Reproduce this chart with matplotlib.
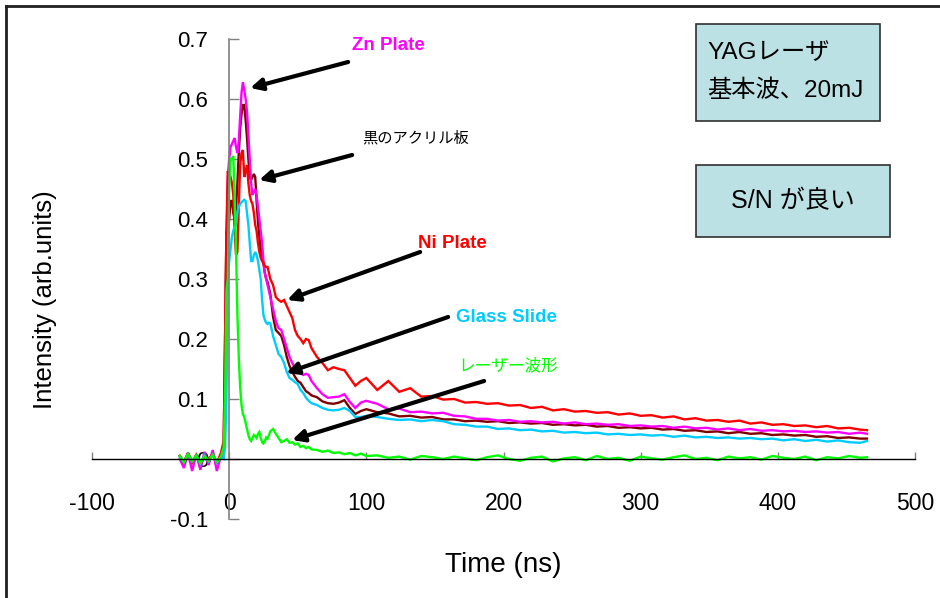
import matplotlib
matplotlib.use("Agg")
import matplotlib.pyplot as plt
from matplotlib.patches import Rectangle
from matplotlib.lines import Line2D

FONT = ['Liberation Sans', 'Noto Sans CJK JP', 'DejaVu Sans']
plt.rcParams['font.family'] = FONT

# ---- time samples (ns) ----
t_pre = [-36, -33, -30, -27, -24, -21, -18, -15, -12, -9, -6]
t_peak = [-4, -3, -2, -1, 0, 1, 2, 3, 4, 5, 6, 7, 8, 9, 10, 11, 12, 13, 14, 15,
          16, 17, 18, 19, 20, 21, 22, 23, 24, 25, 26, 27, 28, 29, 30]
t_mid = [32, 34, 36, 38, 40, 42, 44, 46, 48, 50, 52, 54, 56, 58, 60]
t_late = [64, 68, 72, 76, 80, 84, 88, 92, 96, 100]
t_tail = [108, 116, 124, 132, 140, 148, 156, 164, 172, 180, 188, 196, 204, 212,
          220, 228, 236, 244, 252, 260, 268, 276, 284, 292, 300, 308, 316, 324,
          332, 340, 348, 356, 364, 372, 380, 388, 396, 404, 412, 420, 428, 436,
          444, 452, 460, 465]

# ---- Zn Plate (magenta) ----
zn_pre = [0.0, -0.015, 0.01, -0.02, 0.008, -0.018, 0.012, -0.01, 0.015, -0.02, 0.005]
zn_peak = [0.0, 0.15, 0.35, 0.47, 0.50, 0.52, 0.525, 0.53, 0.535, 0.52, 0.51, 0.53,
           0.57, 0.61, 0.628, 0.615, 0.60, 0.58, 0.54, 0.50, 0.46, 0.44, 0.445, 0.45,
           0.44, 0.42, 0.40, 0.38, 0.36, 0.33, 0.31, 0.30, 0.29, 0.28, 0.27]
zn_mid = [0.25, 0.23, 0.218, 0.215, 0.20, 0.185, 0.17, 0.16, 0.152, 0.145, 0.143,
          0.14, 0.142, 0.14, 0.13]
zn_late = [0.118, 0.108, 0.102, 0.103, 0.104, 0.108, 0.095, 0.085, 0.094, 0.097]
zn_tail = [0.092, 0.083, 0.084, 0.078, 0.079, 0.076, 0.077, 0.072, 0.071, 0.067,
           0.067, 0.064, 0.065, 0.062, 0.063, 0.061, 0.062, 0.059, 0.061, 0.058,
           0.059, 0.057, 0.058, 0.055, 0.056, 0.054, 0.055, 0.052, 0.054, 0.051,
           0.052, 0.049, 0.051, 0.048, 0.050, 0.047, 0.048, 0.046, 0.047, 0.045,
           0.046, 0.044, 0.045, 0.042, 0.044, 0.042]

# ---- 黒のアクリル板 (dark red) ----
ac_pre = [0.005, -0.005, 0.01, -0.008, 0.006, -0.01, 0.004, -0.006, 0.01, -0.008, 0.005]
ac_peak = [0.02, 0.20, 0.38, 0.37, 0.40, 0.43, 0.43, 0.41, 0.40, 0.42, 0.46, 0.51,
           0.55, 0.575, 0.59, 0.59, 0.565, 0.535, 0.50, 0.47, 0.465, 0.47, 0.475,
           0.47, 0.43, 0.395, 0.37, 0.35, 0.335, 0.325, 0.31, 0.30, 0.295, 0.285, 0.275]
ac_mid = [0.237, 0.215, 0.21, 0.205, 0.19, 0.17, 0.155, 0.145, 0.137, 0.13, 0.127,
          0.12, 0.113, 0.11, 0.106]
ac_late = [0.103, 0.096, 0.093, 0.092, 0.094, 0.098, 0.085, 0.075, 0.080, 0.083]
ac_tail = [0.078, 0.076, 0.071, 0.072, 0.069, 0.070, 0.066, 0.066, 0.063, 0.064,
           0.062, 0.063, 0.060, 0.061, 0.059, 0.060, 0.057, 0.058, 0.056, 0.057,
           0.054, 0.055, 0.052, 0.053, 0.051, 0.052, 0.049, 0.050, 0.047, 0.048,
           0.045, 0.046, 0.043, 0.045, 0.042, 0.043, 0.040, 0.041, 0.039, 0.040,
           0.037, 0.038, 0.035, 0.036, 0.034, 0.034]

# ---- Ni Plate (red) ----
ni_pre = [0.005, -0.008, 0.01, -0.005, 0.007, -0.01, 0.006, 0.0, 0.008, -0.006, 0.01]
ni_peak = [0.03, 0.20, 0.38, 0.48, 0.47, 0.47, 0.46, 0.44, 0.38, 0.34, 0.345, 0.42,
           0.49, 0.51, 0.515, 0.47, 0.48, 0.49, 0.46, 0.44, 0.43, 0.425, 0.41, 0.39,
           0.38, 0.36, 0.345, 0.335, 0.33, 0.327, 0.322, 0.32, 0.32, 0.31, 0.30]
ni_mid = [0.29, 0.27, 0.265, 0.262, 0.265, 0.255, 0.245, 0.235, 0.215, 0.205, 0.20,
          0.193, 0.20, 0.198, 0.185]
ni_late = [0.17, 0.16, 0.148, 0.153, 0.15, 0.148, 0.135, 0.122, 0.13, 0.135]
ni_tail = [0.115, 0.13, 0.112, 0.118, 0.104, 0.105, 0.099, 0.100, 0.094, 0.095,
           0.092, 0.093, 0.089, 0.090, 0.085, 0.087, 0.081, 0.083, 0.079, 0.080,
           0.077, 0.078, 0.074, 0.076, 0.072, 0.073, 0.069, 0.071, 0.066, 0.068,
           0.064, 0.065, 0.062, 0.064, 0.059, 0.061, 0.057, 0.058, 0.055, 0.056,
           0.053, 0.055, 0.051, 0.052, 0.049, 0.048]

# ---- Glass Slide (cyan) ----
gl_pre = [0.003, -0.006, 0.008, -0.004, 0.005, -0.008, 0.006, -0.004, 0.007, -0.006, 0.003]
gl_peak = [0.0, 0.02, 0.10, 0.29, 0.33, 0.35, 0.37, 0.38, 0.387, 0.39, 0.41, 0.42,
           0.425, 0.428, 0.43, 0.432, 0.43, 0.41, 0.39, 0.36, 0.33, 0.33, 0.34, 0.345,
           0.34, 0.33, 0.315, 0.30, 0.265, 0.24, 0.232, 0.227, 0.225, 0.227, 0.226]
gl_mid = [0.205, 0.19, 0.175, 0.17, 0.16, 0.145, 0.135, 0.132, 0.128, 0.125, 0.115,
          0.11, 0.102, 0.097, 0.093]
gl_late = [0.09, 0.085, 0.082, 0.081, 0.082, 0.085, 0.08, 0.07, 0.07, 0.072]
gl_tail = [0.070, 0.067, 0.065, 0.066, 0.063, 0.065, 0.063, 0.058, 0.057, 0.054,
           0.054, 0.050, 0.051, 0.048, 0.049, 0.046, 0.047, 0.044, 0.045, 0.043,
           0.044, 0.041, 0.042, 0.040, 0.041, 0.039, 0.040, 0.037, 0.039, 0.036,
           0.037, 0.035, 0.036, 0.034, 0.035, 0.033, 0.034, 0.031, 0.033, 0.030,
           0.032, 0.029, 0.031, 0.028, 0.027, 0.030]

# ---- レーザー波形 (green) ----
la_pre = [0.005, -0.005, 0.008, -0.004, 0.006, -0.006, 0.004, -0.003, 0.007, -0.005, 0.004]
la_peak = [0.02, 0.10, 0.28, 0.30, 0.45, 0.50, 0.50, 0.505, 0.44, 0.35, 0.24, 0.17,
           0.12, 0.09, 0.075, 0.07, 0.06, 0.05, 0.04, 0.033, 0.03, 0.035, 0.04, 0.038,
           0.035, 0.042, 0.045, 0.035, 0.028, 0.026, 0.03, 0.036, 0.034, 0.04, 0.046]
la_mid = [0.05, 0.042, 0.035, 0.028, 0.03, 0.033, 0.027, 0.028, 0.024, 0.026, 0.02,
          0.022, 0.018, 0.02, 0.016]
la_late = [0.015, 0.012, 0.014, 0.01, 0.011, 0.008, 0.01, 0.006, 0.009, 0.005]
la_tail = [0.006, 0.002, 0.004, -0.001, 0.005, 0.003, 0.0, 0.004, 0.001, -0.002,
           0.003, 0.006, 0.0, -0.003, 0.002, 0.004, -0.004, 0.001, 0.003, -0.002,
           0.005, 0.0, 0.002, -0.003, 0.004, 0.001, -0.001, 0.003, 0.006, 0.0,
           0.002, -0.002, 0.004, 0.001, 0.003, -0.001, 0.005, 0.002, 0.0, 0.004,
           -0.002, 0.003, 0.001, 0.005, 0.002, 0.003]

x_ticks = [-100, 0, 100, 200, 300, 400, 500]
y_ticks = [-0.1, 0, 0.1, 0.2, 0.3, 0.4, 0.5, 0.6, 0.7]
y_ticklabels = ['-0.1', '0', '0.1', '0.2', '0.3', '0.4', '0.5', '0.6', '0.7']

time = t_pre + t_peak + t_mid + t_late + t_tail
series = [
    (ac_pre + ac_peak + ac_mid + ac_late + ac_tail, '#800000'),
    (zn_pre + zn_peak + zn_mid + zn_late + zn_tail, '#FF00FF'),
    (ni_pre + ni_peak + ni_mid + ni_late + ni_tail, '#FF0000'),
    (gl_pre + gl_peak + gl_mid + gl_late + gl_tail, '#00CCFF'),
    (la_pre + la_peak + la_mid + la_late + la_tail, '#00FF00'),
]

fig = plt.figure(figsize=(9.4, 5.98), dpi=100)
ax = fig.add_axes([92 / 940, 1 - 519 / 598, 823 / 940, 480 / 598])

for vals, col in series:
    ax.plot(time, vals, color=col, lw=1.7, solid_joinstyle='miter')

ax.set_xlim(-100, 500)
ax.set_ylim(-0.1, 0.7)
for s in ['top', 'right']:
    ax.spines[s].set_visible(False)
ax.spines['left'].set_position(('data', 0))
ax.spines['bottom'].set_position(('data', 0))
ax.spines['left'].set_color('#808080')
ax.spines['bottom'].set_color('black')
ax.spines['left'].set_linewidth(1.2)
ax.spines['bottom'].set_linewidth(1.0)

ax.set_xticks(x_ticks)
ax.set_xticklabels([str(v) for v in x_ticks])
ax.set_yticks(y_ticks)
ax.set_yticklabels(y_ticklabels)
ax.tick_params(axis='x', direction='in', length=5, width=1, color='#808080',
               pad=24, labelsize=16.5)
ax.tick_params(axis='y', direction='in', length=7, width=1, color='#808080',
               pad=15, labelsize=16)

fig.text(503 / 940, 1 - 565 / 598, 'Time (ns)', ha='center', va='center', fontsize=20)
fig.text(45 / 940, 1 - 300 / 598, 'Intensity (arb.units)', ha='center', va='center',
         fontsize=18.5, rotation=90)

def px2d(px, py):
    return ((px - 229) / 1.372, (459 - py) / 600)

arrows = [
    ((348, 62), (250, 88)),
    ((352, 155), (259, 180)),
    ((420, 252), (287, 300)),
    ((448, 317), (286, 373)),
    ((484, 381), (292, 440)),
]
for (s, e) in arrows:
    ax.annotate('', xy=px2d(*e), xytext=px2d(*s),
                arrowprops=dict(arrowstyle='-|>,head_length=0.7,head_width=0.35',
                                lw=3, color='black', shrinkA=0, shrinkB=0),
                annotation_clip=False)

labels = [
    ('Zn Plate', (388, 45), '#FF00FF', 'bold', 13.5),
    ('黒のアクリル板', (416, 138), 'black', 'normal', 11),
    ('Ni Plate', (452, 243), '#FF0000', 'bold', 13.5),
    ('Glass Slide', (506, 317), '#00CCFF', 'bold', 13.5),
    ('レーザー波形', (508, 365), '#00FF00', 'normal', 12),
]
for txt, (px, py), col, wt, fs in labels:
    fig.text(px / 940, 1 - py / 598, txt, color=col, fontweight=wt, fontsize=fs,
             ha='center', va='center', family=FONT)

box_fc = '#BCE1E4'
fig.patches.append(Rectangle((696 / 940, 1 - 121 / 598), 184 / 940, 97 / 598,
                             transform=fig.transFigure, facecolor=box_fc,
                             edgecolor='#303030', lw=1.2, zorder=5))
fig.patches.append(Rectangle((696 / 940, 1 - 237 / 598), 194 / 940, 72 / 598,
                             transform=fig.transFigure, facecolor=box_fc,
                             edgecolor='#303030', lw=1.2, zorder=5))
fig.text(707 / 940, 1 - 53 / 598, 'YAGレーザ', fontsize=17.5, ha='left', va='center',
         family=FONT, zorder=6)
fig.text(707 / 940, 1 - 91 / 598, '基本波、20mJ', fontsize=17.5, ha='left', va='center',
         family=FONT, zorder=6)
fig.text(793 / 940, 1 - 201 / 598, 'S/N が良い', fontsize=18, ha='center', va='center',
         family=FONT, zorder=6)

# outer frame (top and left edges)
fig.add_artist(Line2D([6 / 940, 1.0], [1 - 5.5 / 598, 1 - 5.5 / 598],
                      transform=fig.transFigure, color='#202020', lw=2))
fig.add_artist(Line2D([6 / 940, 6 / 940], [0, 1 - 5.5 / 598],
                      transform=fig.transFigure, color='#202020', lw=2))

fig.savefig('out.png', dpi=100)
